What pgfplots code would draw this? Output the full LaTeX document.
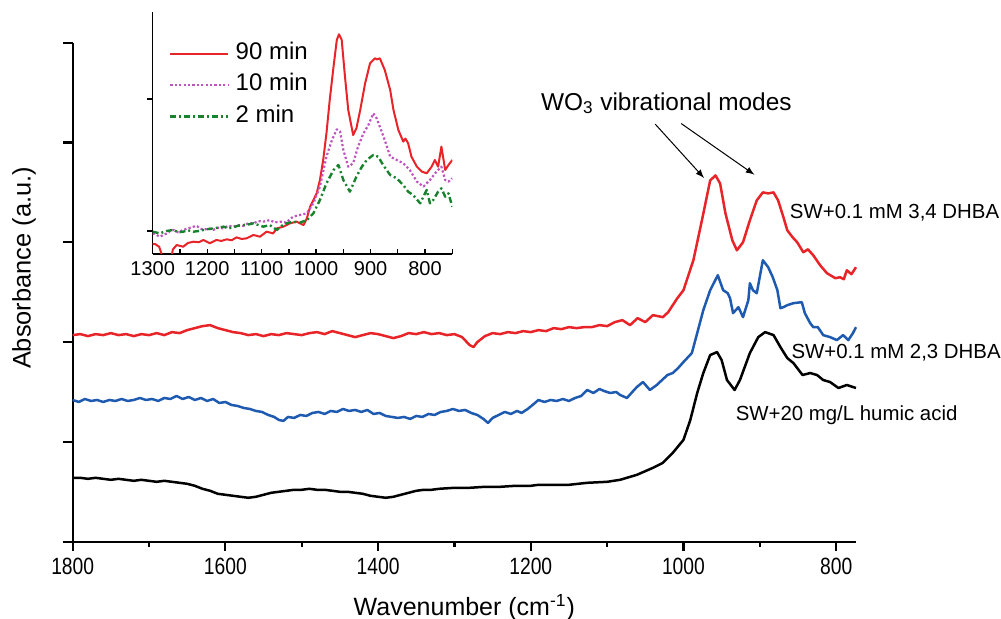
\documentclass[border=0pt]{standalone}
\usepackage{pgfplots}
\pgfplotsset{compat=1.18}
\usepackage{fontspec}
\setmainfont{Liberation Sans}
\newfontfamily\narrow{Liberation Sans}[FakeStretch=0.82]
\definecolor{cred}{RGB}{232,36,40}
\definecolor{cblue}{RGB}{30,90,175}
\definecolor{cpurple}{RGB}{190,85,190}
\definecolor{cgreen}{RGB}{25,130,45}
\begin{document}
\begin{tikzpicture}
\useasboundingbox (0,0) rectangle (500.5pt,309.5pt);
\begin{axis}[
  at={(36.35pt,38.65pt)}, anchor=south west,
  scale only axis, width=391.65pt, height=249.5pt,
  xmin=774, xmax=1800, ymin=0, ymax=5,
  x dir=reverse,
  axis x line*=bottom, axis y line*=left,
  axis line style={-, line width=1.1pt},
  xtick={800,1000,...,1800}, minor xtick={900,1100,...,1700},
  ytick={0,1,...,5}, yticklabels={},
  tick align=outside,
  major tick length=4.6pt, minor tick length=2.6pt,
  every tick/.style={black, line width=1.1pt},
  scaled x ticks=false,
  /pgf/number format/assume math mode=true,
  /pgf/number format/1000 sep={},
  tick label style={font=\narrow\fontsize{11.75}{12}\selectfont},
  xlabel={Wavenumber (cm\textsuperscript{-1})},
  ylabel={Absorbance (a.u.)},
  xlabel style={font=\fontsize{12.5}{13}\selectfont, at={(axis description cs:0.5,-0.147)}, anchor=base},
  ylabel style={font=\fontsize{12.7}{13}\selectfont, at={(axis description cs:-0.0622,0.5485)}, anchor=center},
  clip=false,
  every axis plot/.append style={line width=1.25pt, line join=round},
]
% SW+0.1 mM 3,4 DHBA
\addplot[cred] coordinates {
(1800,2.07)(1790,2.08)(1780,2.06)(1770,2.08)(1760,2.07)(1750,2.09)(1740,2.07)(1730,2.08)(1720,2.06)(1710,2.08)
(1700,2.07)(1690,2.09)(1680,2.07)(1670,2.10)(1660,2.09)(1650,2.12)(1640,2.14)(1630,2.16)(1620,2.17)(1610,2.14)
(1600,2.12)(1590,2.10)(1580,2.09)(1570,2.07)(1560,2.08)(1550,2.06)(1540,2.08)(1530,2.07)(1520,2.09)(1510,2.08)
(1500,2.07)(1490,2.09)(1480,2.10)(1470,2.08)(1460,2.11)(1450,2.09)(1440,2.07)(1430,2.05)(1420,2.07)(1410,2.09)
(1400,2.08)(1390,2.06)(1380,2.04)(1370,2.06)(1360,2.09)(1350,2.08)(1340,2.10)(1330,2.08)(1320,2.09)(1310,2.07)
(1300,2.08)(1290,2.05)(1280,1.97)(1275,1.95)(1270,2.00)(1260,2.06)(1250,2.09)(1240,2.08)(1230,2.10)(1220,2.09)
(1210,2.11)(1200,2.10)(1190,2.12)(1180,2.11)(1170,2.14)(1160,2.13)(1150,2.15)(1140,2.14)(1130,2.15)(1120,2.15)
(1110,2.17)(1100,2.16)(1090,2.20)(1080,2.22)(1070,2.17)(1060,2.24)(1050,2.20)(1040,2.27)(1027,2.25)(1020,2.30)
(1008,2.44)(1000,2.52)(987,2.82)(975,3.25)(965,3.62)(958,3.67)(952,3.59)(945,3.29)(936,3.02)(930,2.92)
(922,3.00)(913,3.22)(904,3.42)(896,3.50)(889,3.49)(882,3.50)(876,3.42)(869,3.25)(864,3.12)(857,3.05)
(851,3.00)(843,2.90)(837,2.93)(830,2.87)(821,2.77)(812,2.69)(801,2.64)(795,2.65)(790,2.63)(786,2.72)
(780,2.68)(774,2.75)
};
% SW+0.1 mM 2,3 DHBA
\addplot[cblue] coordinates {
(1800,1.42)(1792,1.40)(1784,1.43)(1776,1.41)(1768,1.42)(1760,1.40)(1752,1.42)(1744,1.41)(1736,1.43)(1728,1.41)
(1720,1.42)(1712,1.44)(1704,1.42)(1696,1.43)(1688,1.41)(1680,1.44)(1672,1.43)(1664,1.46)(1656,1.43)(1648,1.45)
(1640,1.42)(1632,1.44)(1624,1.41)(1616,1.43)(1608,1.39)(1600,1.40)(1592,1.37)(1584,1.36)(1576,1.34)(1568,1.33)
(1560,1.31)(1552,1.30)(1544,1.27)(1536,1.25)(1530,1.22)(1524,1.21)(1518,1.25)(1510,1.24)(1502,1.27)(1494,1.26)
(1486,1.29)(1478,1.30)(1470,1.28)(1462,1.31)(1454,1.30)(1446,1.33)(1438,1.31)(1430,1.32)(1422,1.30)(1414,1.32)
(1406,1.28)(1398,1.29)(1390,1.26)(1382,1.25)(1374,1.24)(1366,1.25)(1358,1.23)(1350,1.26)(1342,1.25)(1334,1.28)
(1326,1.27)(1318,1.30)(1310,1.31)(1302,1.33)(1294,1.31)(1286,1.32)(1278,1.29)(1270,1.27)(1262,1.23)(1256,1.19)
(1250,1.24)(1242,1.27)(1234,1.30)(1226,1.28)(1218,1.31)(1212,1.29)(1204,1.33)(1196,1.38)(1190,1.42)(1182,1.40)
(1174,1.42)(1166,1.41)(1158,1.43)(1150,1.41)(1142,1.44)(1134,1.46)(1126,1.52)(1118,1.49)(1110,1.53)(1104,1.51)
(1096,1.49)(1088,1.50)(1083,1.47)(1074,1.44)(1067,1.50)(1061,1.55)(1053,1.60)(1044,1.52)(1035,1.57)(1028,1.62)
(1021,1.67)(1014,1.69)(1007,1.74)(1000,1.80)(989,1.89)(982,2.09)(974,2.32)(965,2.52)(955,2.67)(948,2.52)
(942,2.49)(939,2.44)(935,2.29)(928,2.35)(922,2.25)(915,2.42)(913,2.59)(909,2.52)(904,2.49)(896,2.82)
(889,2.75)(883,2.65)(877,2.52)(873,2.34)(869,2.35)(864,2.37)(856,2.39)(845,2.40)(841,2.29)(834,2.19)
(830,2.15)(824,2.15)(817,2.07)(808,2.05)(799,2.02)(791,2.07)(784,2.02)(778,2.09)(774,2.15)
};
% SW+20 mg/L humic acid
\addplot[black] coordinates {
(1800,0.64)(1790,0.64)(1780,0.63)(1770,0.64)(1760,0.63)(1750,0.62)(1740,0.63)(1730,0.62)(1720,0.61)(1710,0.62)
(1700,0.61)(1690,0.60)(1680,0.61)(1670,0.60)(1660,0.59)(1650,0.58)(1640,0.56)(1630,0.53)(1620,0.51)(1610,0.48)
(1600,0.47)(1590,0.46)(1580,0.45)(1570,0.44)(1560,0.45)(1550,0.47)(1540,0.49)(1530,0.50)(1520,0.51)(1510,0.52)
(1500,0.52)(1490,0.53)(1480,0.52)(1470,0.52)(1460,0.51)(1450,0.50)(1440,0.50)(1430,0.49)(1420,0.48)(1410,0.46)
(1400,0.45)(1390,0.44)(1380,0.45)(1370,0.47)(1360,0.49)(1350,0.51)(1340,0.52)(1330,0.52)(1320,0.53)(1300,0.54)
(1280,0.54)(1260,0.55)(1240,0.55)(1220,0.56)(1200,0.56)(1190,0.57)(1170,0.57)(1150,0.57)(1126,0.59)(1100,0.60)
(1083,0.62)(1061,0.67)(1040,0.74)(1027,0.79)(1014,0.89)(1000,1.02)(991,1.22)(982,1.49)(974,1.69)(965,1.87)
(956,1.90)(950,1.82)(943,1.62)(933,1.52)(926,1.62)(913,1.89)(902,2.05)(893,2.10)(882,2.07)(873,1.95)
(864,1.84)(856,1.79)(844,1.67)(834,1.69)(825,1.67)(817,1.62)(808,1.60)(797,1.54)(786,1.57)(774,1.54)
};
\node[anchor=base west, inner sep=0pt, font=\fontsize{10.2}{11}\selectfont] at (axis cs:861,3.234) {SW+0.1 mM 3,4 DHBA};
\node[anchor=base west, inner sep=0pt, font=\fontsize{10.2}{11}\selectfont] at (axis cs:859,1.834) {SW+0.1 mM 2,3 DHBA};
\node[anchor=base west, inner sep=0pt, font=\fontsize{10.2}{11}\selectfont] at (axis cs:932,1.217) {SW+20 mg/L humic acid};
\node[anchor=base west, inner sep=0pt, font=\fontsize{12.2}{13}\selectfont] at (axis cs:1187,4.324) {WO\textsubscript{3} vibrational modes};
\draw[-latex, line width=0.5pt] (axis cs:1037,4.184) -- (axis cs:973,3.644);
\draw[-latex, line width=0.5pt] (axis cs:1003,4.19) -- (axis cs:907,3.677);
\end{axis}
\begin{axis}[
  at={(76.35pt,182.5pt)}, anchor=south west,
  scale only axis, width=149.8pt, height=121.15pt,
  xmin=750, xmax=1300, ymin=-0.174, ymax=1.661,
  x dir=reverse,
  axis x line*=bottom, axis y line*=left,
  axis line style={-, line width=0.65pt},
  xtick={800,900,...,1300}, minor xtick={750,850,...,1250},
  ytick={0,1}, yticklabels={},
  xtick align=inside, ytick align=outside,
  major tick length=2.6pt, minor tick length=2.6pt,
  every tick/.style={black, line width=0.65pt},
  scaled x ticks=false,
  /pgf/number format/assume math mode=true,
  /pgf/number format/1000 sep={},
  tick label style={font=\fontsize{10}{11}\selectfont},
  every axis plot/.append style={line width=1pt, line join=round},
  legend style={at={(0.054,0.875)}, anchor=north west, draw=none, fill=none, inner sep=0pt,
    font=\fontsize{12}{13}\selectfont, row sep=4.5pt,
    nodes={inner sep=0pt, text height=8.6pt, text depth=2.6pt}},
  legend cell align=left,
  legend image code/.code={\draw[#1] (0pt,0pt) -- (29pt,0pt);},
  /tikz/every odd column/.append style={column sep=3pt},
]
\addplot[cred] coordinates {
(1300,-0.10)(1295,-0.10)(1288,-0.12)(1284,-0.17)(1280,-0.25)(1268,-0.25)(1263,-0.14)(1256,-0.106)(1244,-0.119)(1235,-0.09)
(1225,-0.081)(1215,-0.085)(1207,-0.068)(1195,-0.093)(1183,-0.068)(1174,-0.075)(1164,-0.063)(1155,-0.07)(1146,-0.048)(1137,-0.06)
(1128,-0.056)(1115,-0.030)(1103,-0.043)(1091,-0.005)(1079,-0.018)(1072,0.020)(1060,0.033)(1048,0.058)(1036,0.071)(1023,0.045)
(1017,0.096)(1011,0.184)(1005,0.235)(999,0.285)(993,0.386)(987,0.538)(981,0.740)(975,0.992)(968,1.245)(962,1.447)
(958,1.490)(953,1.447)(947,1.169)(941,0.917)(932,0.727)(926,0.778)(919,0.917)(910,1.119)(901,1.270)(892,1.308)
(888,1.30)(883,1.308)(874,1.220)(864,1.068)(858,0.917)(849,0.765)(840,0.677)(836,0.70)(831,0.664)(825,0.563)
(815,0.487)(806,0.450)(797,0.437)(788,0.487)(782,0.538)(776,0.487)(770,0.639)(763,0.462)(757,0.500)(750,0.538)
};
\addlegendentry{90 min}
\addplot[cpurple, line width=1.1pt, dash pattern=on 1.1pt off 1.1pt] coordinates {
(1300,-0.018)(1293,-0.03)(1287,-0.043)(1274,-0.018)(1268,0.0)(1262,0.008)(1253,-0.01)(1244,0.008)(1235,0.02)(1225,0.033)
(1219,0.038)(1213,0.02)(1207,0.008)(1198,0.02)(1189,0.008)(1180,0.025)(1170,0.020)(1161,0.04)(1152,0.033)(1143,0.045)
(1134,0.038)(1124,0.06)(1115,0.058)(1106,0.075)(1097,0.071)(1085,0.083)(1076,0.065)(1066,0.071)(1054,0.063)(1048,0.09)
(1042,0.109)(1030,0.121)(1017,0.134)(1005,0.210)(993,0.336)(981,0.563)(971,0.689)(962,0.770)(956,0.753)(950,0.614)
(941,0.487)(932,0.513)(923,0.639)(913,0.740)(904,0.803)(895,0.891)(889,0.854)(883,0.790)(874,0.689)(864,0.563)
(852,0.538)(840,0.513)(828,0.462)(815,0.374)(803,0.336)(791,0.386)(779,0.450)(770,0.487)(763,0.386)(757,0.374)
(750,0.399)
};
\addlegendentry{10 min}
\addplot[cgreen, line width=1.2pt, dash pattern=on 3pt off 1.5pt on 1pt off 1.5pt] coordinates {
(1300,-0.005)(1287,-0.018)(1275,0.0)(1262,0.008)(1253,-0.01)(1244,-0.005)(1235,0.005)(1225,-0.005)(1216,0.0)(1207,0.008)
(1198,0.015)(1189,0.020)(1180,0.025)(1170,0.033)(1161,0.02)(1152,0.028)(1143,0.04)(1134,0.045)(1124,0.05)(1115,0.058)
(1106,0.045)(1097,0.033)(1085,0.045)(1072,0.008)(1063,0.04)(1054,0.058)(1042,0.071)(1030,0.063)(1017,0.083)(1005,0.134)
(993,0.235)(981,0.361)(968,0.462)(959,0.500)(950,0.386)(938,0.298)(926,0.412)(916,0.487)(907,0.538)(895,0.576)
(886,0.563)(877,0.500)(864,0.424)(852,0.399)(840,0.348)(831,0.298)(822,0.273)(809,0.210)(797,0.311)(791,0.210)
(785,0.235)(776,0.298)(770,0.323)(763,0.260)(757,0.285)(750,0.184)
};
\addlegendentry{2 min}
\end{axis}
\end{tikzpicture}
\end{document}
